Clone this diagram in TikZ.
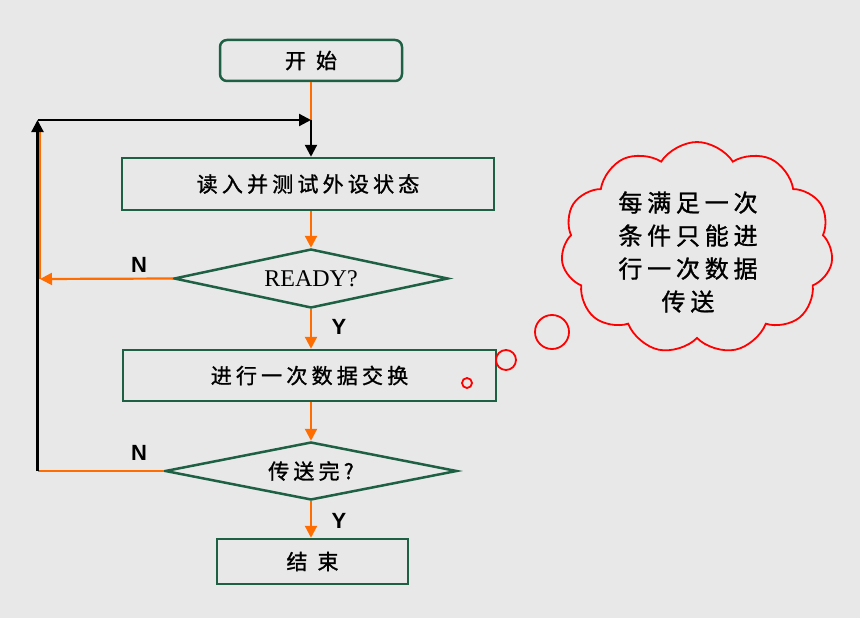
\documentclass[tikz,border=0pt]{standalone}
\usepackage{fontspec}
\setmainfont{Liberation Serif}
\newfontfamily\cjk[LetterSpace=20,FakeBold=1.2]{Noto Sans CJK SC}
\newfontfamily\cjkcloud[LetterSpace=20,FakeBold=1.2]{Noto Sans CJK SC}
\newfontfamily\lsans{Liberation Sans}
\usetikzlibrary{shapes.geometric,shapes.symbols,arrows.meta}
\definecolor{bg}{RGB}{232,232,232}
\definecolor{boxgreen}{RGB}{30,96,68}
\definecolor{flow}{RGB}{255,108,0}
\begin{document}
\begin{tikzpicture}[x=1pt,y=-1pt,
  procbox/.style={draw=boxgreen,line width=2.5pt,fill=bg,inner sep=0pt,font=\cjk\fontsize{21}{24}\selectfont},
  decbox/.style={diamond,draw=boxgreen,line width=2.5pt,aspect=4,inner sep=0pt},
  flowline/.style={draw=flow,line width=2.2pt},
  flowarrow/.style={flowline,-{Triangle[length=12pt,width=12pt]}},
  backline/.style={draw=black,line width=2.2pt},
  backarrow/.style={backline,-{Triangle[length=12pt,width=12pt]}},
  yn/.style={font=\lsans\bfseries\fontsize{22}{24}\selectfont,inner sep=0pt},
  bubble/.style={circle,draw=red,line width=1.8pt,inner sep=0pt}]
\useasboundingbox (0,0) rectangle (860,618);
\fill[bg] (0,0) rectangle (860,618);

\node[procbox,rounded corners=7pt,minimum width=182pt,minimum height=41pt] (start) at (311,60.5) {开\hspace{10pt}始};
\node[procbox,minimum width=372pt,minimum height=52pt] (read) at (308,184) {读入并测试外设状态};
\node[decbox,minimum width=274pt,minimum height=59pt] (ready) at (311,278.5) {\fontsize{24}{26}\selectfont READY?};
\node[procbox,minimum width=373pt,minimum height=51pt] (xfer) at (309.5,375.5) {进行一次数据交换};
\node[decbox,minimum width=292pt,minimum height=58pt] (done) at (311,471) {\cjk\fontsize{21}{24}\selectfont 传送完?};
\node[procbox,minimum width=191pt,minimum height=45pt] (stop) at (312.5,561.5) {结\hspace{10pt}束};

\coordinate (J) at (311,120);
\coordinate (LT) at (37.5,120);
\coordinate (LB) at (37.5,471);
\coordinate (LR) at (40,279);
\coordinate (LO) at (40,128);

% main flow
\draw[flowline] (start.south) -- (J);
\draw[backarrow] (J) -- (J |- read.north);
\draw[flowarrow] (read.south -| J) -- (ready.north);
\draw[flowarrow] (ready.south) -- (ready.south |- xfer.north);
\draw[flowarrow] (xfer.south -| J) -- (done.north);
\draw[flowarrow] (done.south) -- (done.south |- stop.north);

% loops
\draw[flowline] (LR) -- (LO);
\draw[flowarrow] (ready.west) -- (LR);
\draw[flowline] (done.west) -- (LB);
\draw[backarrow] (LB) -- (LT);
\draw[backarrow] (LT) -- (J);

\node[yn] (n1) at (139,265) {N};
\node[yn] (y1) at (339,327) {Y};
\node[yn] (n2) at (139,453) {N};
\node[yn] (y2) at (339,521) {Y};

% thought cloud
\node[cloud,draw=red,line width=1.8pt,cloud puffs=11,cloud puff arc=115,aspect=1.3,minimum width=272pt,minimum height=212pt,inner sep=0pt] (cloud) at (697,248) {};
\node[align=center,font=\cjkcloud\fontsize{24}{33}\selectfont,inner sep=0pt] (ctext) at (688,252) {每满足一次\\条件只能进\\行一次数据\\传送};
\node[bubble,minimum size=34pt] (b1) at (552,332) {};
\node[bubble,minimum size=20pt] (b2) at (506,360) {};
\node[bubble,minimum size=10pt] (b3) at (467,383) {};
\end{tikzpicture}
\end{document}
